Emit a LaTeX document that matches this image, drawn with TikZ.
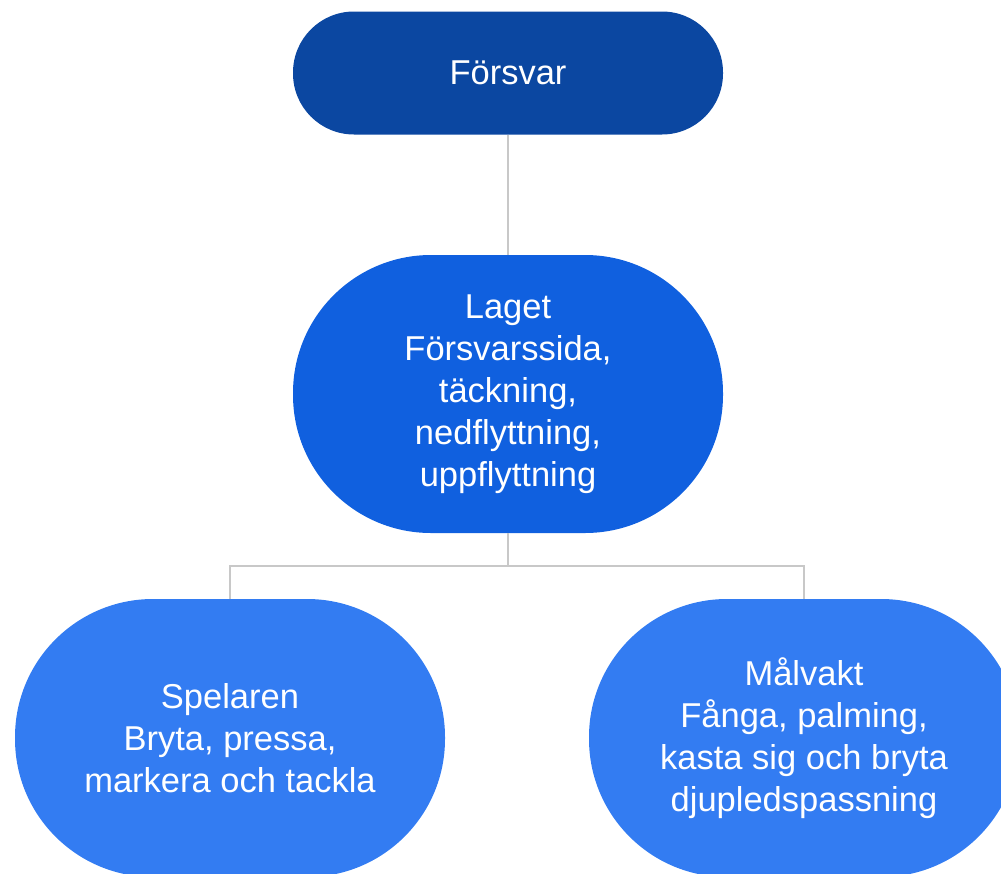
\documentclass[tikz,border=0pt]{standalone}
\usepackage{fontspec}
\setmainfont{Liberation Sans}
\usetikzlibrary{positioning}

\definecolor{toplevel}{HTML}{0B47A1}
\definecolor{midlevel}{HTML}{1060DF}
\definecolor{lowlevel}{HTML}{337CF2}
\definecolor{linegray}{HTML}{C8C8C8}

\begin{document}
\begin{tikzpicture}[x=1pt,y=-1pt]
	\tikzstyle{box} = [text=white, align=center, inner sep=0, minimum width=430pt,
			font=\fontsize{34.5}{42}\selectfont]
	\tikzstyle{link} = [draw=linegray, line width=1.5pt]

	\clip (0,0) rectangle (1001,873);

	\node[box, fill=toplevel, minimum height=123pt, rounded corners=61pt] (forsvar) at (508,73) {Försvar};
	\node[box, fill=midlevel, minimum height=278pt, rounded corners=138pt] (laget) at (508,394)
		{Laget\\Försvarssida,\\täckning,\\nedflyttning,\\uppflyttning};
	\node[box, fill=lowlevel, minimum height=278pt, rounded corners=138pt] (spelaren) at (230,738)
		{Spelaren\\Bryta, pressa,\\markera och tackla};
	\node[box, fill=lowlevel, minimum height=278pt, rounded corners=138pt] (malvakt) at (804,738)
		{Målvakt\\Fånga, palming,\\kasta sig och bryta\\djupledspassning};

	\coordinate (split) at (508,566);

	\draw[link] (forsvar) -- (laget);
	\draw[link] (laget) -- (split) -| (spelaren);
	\draw[link] (split) -| (malvakt);

\end{tikzpicture}
\end{document}
